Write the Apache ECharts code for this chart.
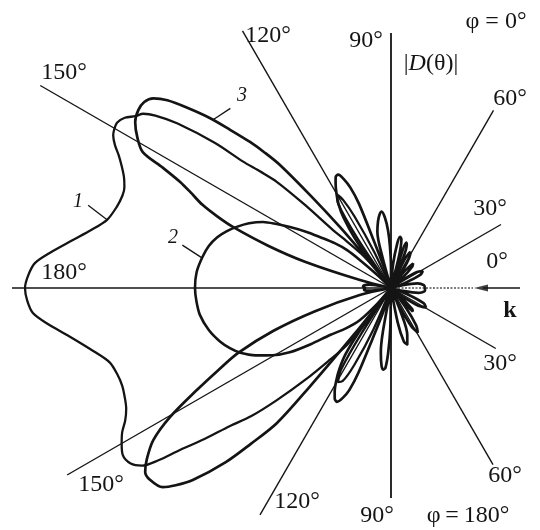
<!DOCTYPE html>
<html>
<head>
<meta charset="utf-8">
<script src="https://cdn.jsdelivr.net/npm/echarts@6/dist/echarts.min.js"></script>
<style>
  html, body { margin: 0; padding: 0; background: #ffffff; }
  #chart { width: 540px; height: 530px; }
</style>
</head>
<body>
<div id="chart"></div>
<script>
// Radiation patterns |D(θ)| in the planes φ = 0° (upper half) and φ = 180° (lower half).
// Each entry: [θ in degrees, |D| in relative units]; θ measured from the 0° direction.

// Pattern 1 – broad pattern with a lobe near 150°
const pattern1Phi0 = [
  [112, 0], [115, 40], [117, 80], [118.5, 100], [120, 108], [122, 100], [124, 60], [126, 0],
  [128, 20], [131, 45], [134, 70], [135, 82], [136, 120], [137.1, 156], [138.3, 175], [139.5, 195],
  [140.5, 228], [142.4, 270], [143.8, 292], [144.9, 303], [146.1, 308], [147.4, 316], [148.9, 320],
  [150.2, 319], [151.2, 317], [152.6, 311], [154, 303], [155.8, 295], [157.5, 289], [159.3, 285],
  [161, 284], [163.5, 286], [166.5, 292], [169, 305], [171.6, 323], [174, 342], [176, 357],
  [178, 363], [180, 366]
];
const pattern1Phi180 = [
  [110, 0], [113, 45], [115.5, 85], [117.5, 105], [119.5, 108], [121.5, 95], [123, 55], [124.5, 0],
  [126, 40], [127.7, 72], [130.5, 95], [133, 125], [135.5, 160], [137.5, 190], [139.4, 212],
  [141, 240], [142.5, 266], [143.5, 290], [144.5, 306], [146, 314], [148.1, 316], [150, 311],
  [151.8, 305], [153.5, 297], [155.5, 291], [157.5, 288], [160, 286], [162.5, 287], [165.2, 291],
  [168, 304], [171.7, 327], [174, 345], [176, 359], [178, 364], [180, 366]
];

// Pattern 2 – single wide lobe toward 180°
const pattern2Phi0 = [
  [135.5, 0], [136.5, 20], [138, 42], [139.2, 58], [141.5, 72], [144.3, 87], [146.5, 102],
  [148.9, 118], [150.8, 131], [152.7, 144], [155.5, 156], [158.4, 166], [161, 174], [163.7, 181],
  [167, 187], [170.6, 191], [175.3, 195], [180, 196]
];
const pattern2Phi180 = [
  [129.5, 0], [131, 20], [134.1, 45], [138, 60], [142.4, 77], [145, 98], [147.6, 120], [150.4, 136],
  [153.5, 151], [156.7, 164], [159.5, 172], [162.5, 179], [167, 187], [172, 193], [176, 195], [180, 196]
];

// Pattern 3 – narrow main lobe near 145° with side lobes
const pattern3Phi0 = [
  [0, 34], [5, 33], [10, 27], [14, 12], [17, 0],
  [20, 15], [24, 32], [28, 36], [32, 30], [36, 10], [38, 0],
  [41, 14], [45, 30], [48, 33], [51, 22], [54, 0],
  [57, 25], [60, 38], [62, 41], [64.5, 32], [66.5, 0],
  [68, 30], [70, 46], [71.5, 48], [73, 36], [74.5, 0],
  [76, 35], [78, 50], [80, 52], [82, 45], [85, 24], [88, 0],
  [90, 20], [91.5, 42], [93, 58], [95, 71], [97, 77], [99, 74], [101, 68], [103.6, 58], [105.5, 32], [107, 0],
  [108.5, 20], [110, 50], [110.8, 90], [112, 108], [113.5, 119], [115, 125], [116.5, 124], [118, 118],
  [120, 109], [122, 99], [124, 85], [126, 62], [127.5, 30], [128.5, 0],
  [129.5, 50], [130, 80], [131, 120], [132.1, 166], [133, 185], [134, 203], [135.5, 226], [136.8, 248],
  [138.5, 272], [140, 292], [141.4, 304], [143, 309], [144.9, 309], [147, 305], [149.3, 295],
  [151.3, 283], [152.2, 258], [153.3, 236], [154.5, 222], [156.2, 206], [157.6, 188], [158.9, 169],
  [161, 130], [163, 90], [165.5, 32], [167, 0],
  [169, 12], [171, 22], [174, 27], [177, 28], [180, 26]
];
const pattern3Phi180 = [
  [0, 34], [5, 34], [10, 28], [14, 12], [17, 0],
  [21, 18], [25, 36], [29, 40], [33, 32], [37, 10], [39, 0],
  [43, 15], [45, 30], [47, 32], [49, 20], [51, 0],
  [53, 25], [56, 45], [59, 52], [62, 44], [65, 20], [66.5, 0],
  [68, 25], [71, 50], [74, 59], [76.5, 55], [79, 35], [82, 0],
  [85, 14], [87, 0],
  [89, 0], [91, 40], [92.5, 65], [94, 80], [95.5, 82], [97, 78], [99, 65], [100.5, 45], [102, 0],
  [106, 0], [108, 25], [110, 55], [111, 90], [112.2, 110], [113.7, 120], [115.4, 126], [117, 124],
  [118.5, 118], [120.5, 108], [122.5, 96], [124.5, 80], [126, 55], [127, 25], [127.5, 0],
  [128.5, 60], [129.5, 130], [130.2, 177], [132, 210], [133.5, 240], [135.9, 276], [137.5, 292],
  [138.9, 303], [141.5, 308], [143.2, 307], [145, 298], [147.4, 282], [149.7, 256], [152.3, 219],
  [154.5, 192], [157, 166], [160, 125], [163, 80], [167.3, 32], [169, 0],
  [171, 14], [173.5, 24], [176.5, 27], [180, 26]
];

// Direction rays: angle and drawn length for each half-plane
const rayAnglesPhi0 = [30, 60, 90, 120, 150, 180];
const rayLengthsPhi0 = [127, 205, 255, 297, 405, 379];
const rayAnglesPhi180 = [30, 60, 90, 120, 150];
const rayLengthsPhi180 = [121, 204, 210, 262, 374];
const zeroRayLength = 82;
// wave vector k arrives from the right along θ = 0°
const kArrowSpan = [129, 86];

// Curve labels (number, theta, radius of leader ends)
const curveLeaders = [
  { name: '1', from: [164.7, 314], to: [166.5, 292] },
  { name: '2', from: [168.4, 213], to: [171, 191] },
  { name: '3', from: [131.8, 241], to: [136.7, 245] }
];

const INK = '#141414';
const SERIF = '"Liberation Serif", "DejaVu Serif", "Times New Roman", serif';

function toPolar(arr, lowerHalf) {
  return arr.map(([t, r]) => [r, lowerHalf ? 360 - t : t]);
}
function joinHalves(upper, lower) {
  return toPolar(upper, false).concat(toPolar(lower.slice().reverse(), true));
}

const series = [];

// reference rays
rayAnglesPhi0.forEach((a, i) => {
  series.push({
    type: 'line', coordinateSystem: 'polar', showSymbol: false, silent: true,
    data: [[0, a], [rayLengthsPhi0[i], a]],
    lineStyle: { color: INK, width: a === 90 ? 1.8 : 1.4 }
  });
});
rayAnglesPhi180.forEach((a, i) => {
  series.push({
    type: 'line', coordinateSystem: 'polar', showSymbol: false, silent: true,
    data: [[0, 360 - a], [rayLengthsPhi180[i], 360 - a]],
    lineStyle: { color: INK, width: a === 90 ? 1.8 : 1.4 }
  });
});
series.push({
  type: 'line', coordinateSystem: 'polar', showSymbol: false, silent: true,
  data: [[0, 0], [zeroRayLength, 0]],
  lineStyle: { color: '#555', width: 1.4, type: [2, 1.5] }
});
// k arrow
series.push({
  type: 'line', coordinateSystem: 'polar', showSymbol: false, silent: true,
  data: [[kArrowSpan[0], 0], [kArrowSpan[1] + 6, 0]],
  lineStyle: { color: INK, width: 1.5 }
});
series.push({
  type: 'scatter', coordinateSystem: 'polar', silent: true,
  data: [[kArrowSpan[1] + 6, 0]],
  symbol: 'path://M12,0 L0,3 L12,6 Z', symbolSize: [14, 7], symbolOffset: [-2, 0],
  itemStyle: { color: INK }
});

// patterns
series.push({
  type: 'line', coordinateSystem: 'polar', showSymbol: false, smooth: 0.3, silent: true,
  data: joinHalves(pattern1Phi0, pattern1Phi180),
  lineStyle: { color: INK, width: 2.3 }
});
series.push({
  type: 'line', coordinateSystem: 'polar', showSymbol: false, smooth: 0.3, silent: true,
  data: joinHalves(pattern2Phi0, pattern2Phi180),
  lineStyle: { color: INK, width: 2.6 }
});
series.push({
  type: 'line', coordinateSystem: 'polar', showSymbol: false, smooth: 0.3, silent: true,
  data: joinHalves(pattern3Phi0, pattern3Phi180),
  lineStyle: { color: INK, width: 2.7 }
});

// leaders for the curve numbers
curveLeaders.forEach(l => {
  series.push({
    type: 'line', coordinateSystem: 'polar', showSymbol: false, silent: true,
    data: [[l.from[1], l.from[0]], [l.to[1], l.to[0]]],
    lineStyle: { color: INK, width: 1.3 }
  });
});

function label(text, x, y, extra) {
  return Object.assign({
    type: 'text', x: x, y: y, silent: true,
    style: {
      text: text, fill: INK, font: '24px ' + SERIF,
      align: 'center', verticalAlign: 'middle'
    }
  }, extra || {});
}

const graphics = [
  label('φ = 0°', 496, 22),
  label('90°', 366, 41),
  {
    type: 'text', x: 431, y: 64, silent: true,
    style: {
      text: '{n||}{i|D}{n|(θ)|}', align: 'center', verticalAlign: 'middle',
      rich: {
        n: { fontFamily: SERIF, fontSize: 24, fill: INK },
        i: { fontFamily: SERIF, fontSize: 24, fontStyle: 'italic', fill: INK }
      }
    }
  },
  label('60°', 510, 99),
  label('30°', 490, 209),
  label('0°', 497, 262),
  {
    type: 'text', x: 510, y: 311, silent: true,
    style: { text: 'k', fill: INK, font: 'bold 24px ' + SERIF, align: 'center', verticalAlign: 'middle' }
  },
  label('30°', 500, 364),
  label('60°', 505, 476),
  label('90°', 377, 516),
  label('φ\u2009=\u2009180°', 468, 516),
  label('120°', 297, 502),
  label('150°', 101, 485),
  label('180°', 64, 273),
  label('150°', 64, 73),
  label('120°', 268, 36)
];
const curveNumberPos = { '1': [78, 202], '2': [173, 238], '3': [242, 96] };
curveLeaders.forEach(l => {
  const p = curveNumberPos[l.name];
  graphics.push({
    type: 'text', x: p[0], y: p[1], silent: true,
    style: { text: l.name, fill: INK, font: 'italic 20px ' + SERIF, align: 'center', verticalAlign: 'middle' }
  });
});

const chart = echarts.init(document.getElementById('chart'), null, { renderer: 'canvas' });
chart.setOption({
  animation: false,
  backgroundColor: '#ffffff',
  polar: { center: [391, 288], radius: 440 },
  angleAxis: {
    type: 'value', min: 0, max: 360, startAngle: 0, clockwise: false,
    show: false, splitLine: { show: false }
  },
  radiusAxis: {
    type: 'value', min: 0, max: 440,
    show: false, splitLine: { show: false }
  },
  series: series,
  graphic: graphics
});
</script>
</body>
</html>
